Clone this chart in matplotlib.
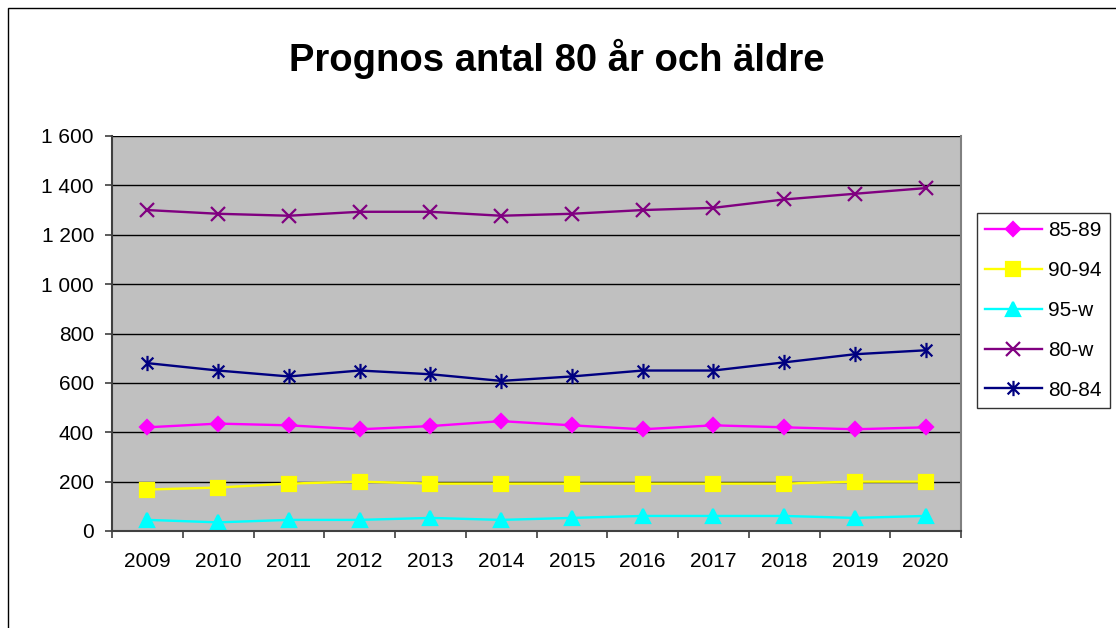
import matplotlib.pyplot as plt
from matplotlib.path import Path
from matplotlib.patches import Rectangle

plt.rcParams['font.family'] = ['Liberation Sans', 'DejaVu Sans']

years = ['2009', '2010', '2011', '2012', '2013', '2014',
         '2015', '2016', '2017', '2018', '2019', '2020']

# values
v85_89 = [420, 435, 428, 412, 425, 445, 428, 412, 428, 420, 412, 420]
v90_94 = [168, 176, 192, 200, 192, 192, 192, 192, 192, 192, 200, 200]
v95_w = [45, 35, 45, 45, 53, 45, 53, 61, 61, 61, 53, 61]
v80_w = [1300, 1285, 1277, 1293, 1293, 1277, 1285, 1300, 1309, 1343, 1366, 1389]
v80_84 = [680, 650, 626, 650, 635, 608, 626, 650, 650, 683, 716, 732]

yticks = [0, 200, 400, 600, 800, 1000, 1200, 1400, 1600]

# Excel style asterisk: x plus vertical bar
asterisk = Path([(-1, -1), (1, 1), (-1, 1), (1, -1), (0, -1.3), (0, 1.3)],
                [Path.MOVETO, Path.LINETO, Path.MOVETO, Path.LINETO,
                 Path.MOVETO, Path.LINETO])

fig = plt.figure(figsize=(11.16, 6.28), dpi=100)
fig.patches.append(Rectangle((8 / 1116, -0.1), 1.2, (628 - 8) / 628 + 0.1,
                             transform=fig.transFigure, fill=False,
                             edgecolor='black', linewidth=1))
ax = fig.add_axes([112 / 1116, 97 / 628, 849 / 1116, 395 / 628])
ax.set_facecolor('#C0C0C0')

x = list(range(len(years)))
series = [
    ('85-89', v85_89, '#FF00FF', 'D', 7.5),
    ('90-94', v90_94, '#FFFF00', 's', 9.5),
    ('95-w', v95_w, '#00FFFF', '^', 10),
    ('80-w', v80_w, '#800080', 'x', 10),
    ('80-84', v80_84, '#000080', asterisk, 11),
]
for name, vals, col, mk, ms in series:
    ax.plot(x, vals, color=col, linewidth=1.7, marker=mk, markersize=ms,
            markeredgewidth=1.6, label=name)

ax.set_xlim(-0.5, len(years) - 0.5)
ax.set_ylim(0, 1600)
ax.set_yticks(yticks)
ax.set_yticklabels([f'{v:,}'.replace(',', ' ') for v in yticks])
ax.yaxis.grid(True, color='black', linewidth=1)
ax.set_axisbelow(True)

ax.set_xticks(x)
ax.set_xticklabels(years)
ax.set_xticks([i - 0.5 for i in range(len(years) + 1)], minor=True)
ax.tick_params(axis='x', which='major', length=0, pad=15, labelsize=15)
ax.tick_params(axis='x', which='minor', length=5, width=1.2,
               direction='out', color='#404040')
ax.tick_params(axis='y', length=5, width=1.2, direction='out',
               color='#404040', labelsize=15, pad=8)

for s in ['left', 'bottom']:
    ax.spines[s].set_color('#404040')
    ax.spines[s].set_linewidth(1.5)
ax.spines['top'].set_visible(False)
ax.spines['right'].set_color('#808080')
ax.spines['right'].set_linewidth(1.5)

fig.text(557 / 1116, 1 - 71 / 628, 'Prognos antal 80 år och äldre',
         ha='center', va='baseline', fontsize=27.5, fontweight='bold')

leg = ax.legend(loc='upper left', bbox_to_anchor=(977 / 1116, 1 - 213 / 628),
                bbox_transform=fig.transFigure, fontsize=15, frameon=True,
                fancybox=False, edgecolor='black', borderpad=0.4,
                labelspacing=1.0, handlelength=2.7, handletextpad=0.3,
                borderaxespad=0)
leg.get_frame().set_linewidth(1)

fig.savefig('out.png', dpi=100)
